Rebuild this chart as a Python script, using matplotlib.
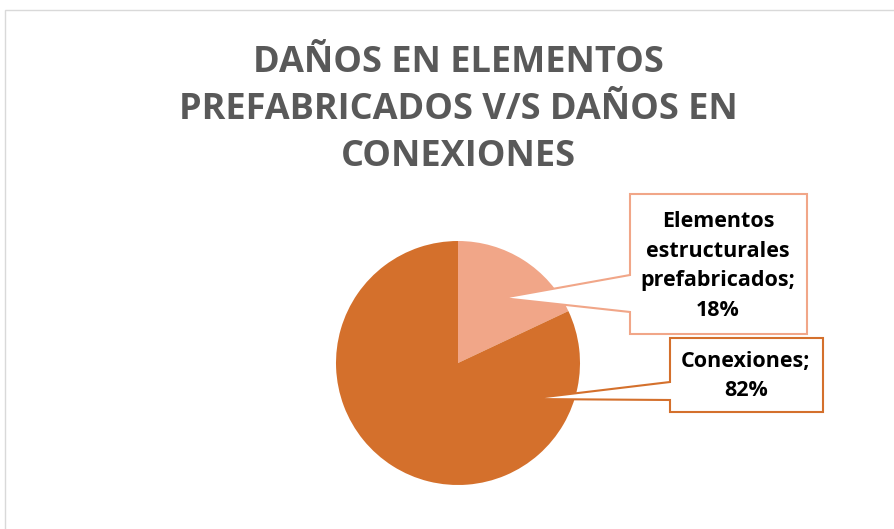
import matplotlib.pyplot as plt
from matplotlib.patches import Polygon, Rectangle
from matplotlib import font_manager

# datos del grafico
labels = ['Elementos\nestructurales\nprefabricados', 'Conexiones']
values = [18, 82]
colors = ['#F1A688', '#D4702C']
title = 'DAÑOS EN ELEMENTOS\nPREFABRICADOS V/S DAÑOS EN\nCONEXIONES'

names = {f.name for f in font_manager.fontManager.ttflist}
fam = 'Liberation Sans Narrow' if 'Liberation Sans Narrow' in names else 'Open Sans'
plt.rcParams['font.family'] = [fam, 'DejaVu Sans']

W, H = 894, 529
fig = plt.figure(figsize=(W / 100, H / 100), dpi=100)
ax = fig.add_axes([0, 0, 1, 1])

def py(y):  # pixel y (from top) -> axis y
    return H - y

ax.pie(values, colors=colors, startangle=90, counterclock=False,
       center=(458, py(363)), radius=122, frame=True)
ax.set_xlim(0, W)
ax.set_ylim(0, H)
ax.set_aspect('equal')
ax.axis('off')

# chart border
ax.add_patch(Rectangle((5, py(600)), 1000, 590, fill=False, ec='#D9D9D9', lw=1))

ax.text(458, py(110), title, ha='center', va='center', fontsize=26,
        fontweight='bold', color='#595959', linespacing=1.4)

# callouts
callouts = [
    dict(box=(630, 194, 807, 334), base=(275, 312), tip=(502, 298), tc=(718, 266)),
    dict(box=(670, 338, 823, 412), base=(382, 400), tip=(528, 399), tc=(746, 376)),
]
for lab, v, c, co in zip(labels, values, colors, callouts):
    x0, y0, x1, y1 = co['box']
    b0, b1 = co['base']
    tx, ty = co['tip']
    pts = [(x0, y0), (x1, y0), (x1, y1), (x0, y1), (x0, b1), (tx, ty), (x0, b0)]
    ax.add_patch(Polygon([(x, py(y)) for x, y in pts], closed=True, fc='white',
                         ec=c, lw=1.5, zorder=5))
    ax.text(co['tc'][0], py(co['tc'][1]), f'{lab};\n{v}%', ha='center', va='center',
            fontsize=15.5, fontweight='bold', color='black', linespacing=1.55, zorder=6)

fig.savefig('out.png', dpi=100)
